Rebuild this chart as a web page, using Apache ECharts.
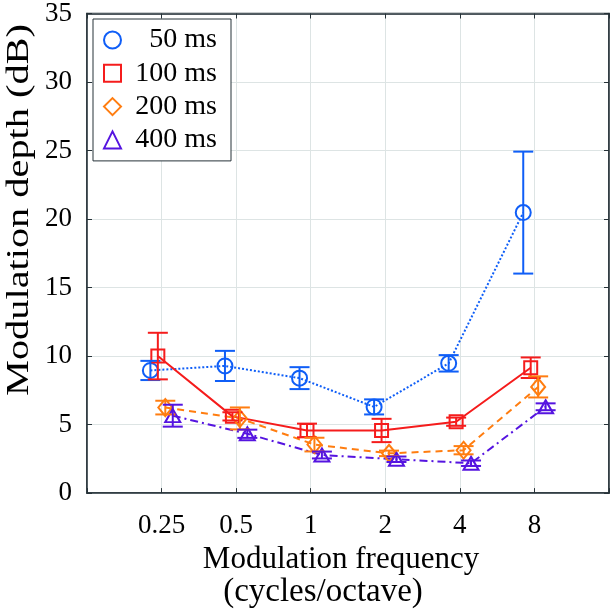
<!DOCTYPE html>
<html>
<head>
<meta charset="utf-8">
<script src="https://cdn.jsdelivr.net/npm/echarts@6/dist/echarts.min.js"></script>
<style>html,body{margin:0;padding:0;background:#fff}#c{width:613px;height:614px}</style>
</head>
<body>
<div id="c"></div>
<script>
const categories = ['0.25', '0.5', '1', '2', '4', '8'];
const freqs = [0.25, 0.5, 1, 2, 4, 8];
const seriesNames = ['50 ms', '100 ms', '200 ms', '400 ms'];
const mean50 = [8.95, 9.28, 8.39, 6.29, 9.47, 20.47];
const err50 = [0.7, 1.1, 0.8, 0.55, 0.6, 4.45];
const mean100 = [10.0, 5.6, 4.57, 4.57, 5.21, 9.15];
const err100 = [1.7, 0.3, 0.5, 0.85, 0.3, 0.75];
const mean200 = [6.24, 5.45, 3.54, 2.9, 3.13, 7.75];
const err200 = [0.5, 0.8, 0.5, 0.2, 0.3, 0.77];
const mean400 = [5.65, 4.33, 2.78, 2.47, 2.18, 6.3];
const err400 = [0.8, 0.3, 0.25, 0.2, 0.2, 0.25];
const yTicks = [0, 5, 10, 15, 20, 25, 30, 35];
const xTitle1 = 'Modulation frequency';
const xTitle2 = '(cycles/octave)';
const yTitle = 'Modulation depth (dB)';

const means = [mean50, mean100, mean200, mean400];
const errs = [err50, err100, err200, err400];
const colors = ['#0f5ef7', '#f51c1c', '#ff7d10', '#5514e0'];
const symbols = ['circle', 'rect', 'diamond', 'triangle'];
const symSizes = [15, 13, [14, 17], [15, 13]];
const lineTypes = ['dotted', 'solid', [7, 5], [8, 4, 2, 4]];
const offsets = [-0.15, -0.05, 0.05, 0.15];
const FONT = '"Liberation Serif", "Times New Roman", serif';

function xLabel(v) {
  for (let i = 0; i < freqs.length; i++) {
    if (Math.abs(Math.log2(freqs[i]) - v) < 1e-6) return categories[i];
  }
  return '';
}

const series = [];
seriesNames.forEach((name, s) => {
  const pts = freqs.map((f, i) => [Math.log2(f) + offsets[s], means[s][i]]);
  series.push({
    name: name,
    type: 'line',
    data: pts,
    symbol: symbols[s],
    symbolSize: symSizes[s],
    showAllSymbol: true,
    lineStyle: { color: colors[s], width: 2, type: lineTypes[s] },
    itemStyle: { color: 'rgba(255,255,255,0)', borderColor: colors[s], borderWidth: 2 },
    z: 3,
    animation: false
  });
  series.push({
    name: name,
    type: 'custom',
    data: freqs.map((f, i) => [Math.log2(f) + offsets[s], means[s][i] - errs[s][i], means[s][i] + errs[s][i]]),
    renderItem: function (params, api) {
      const lo = api.coord([api.value(0), api.value(1)]);
      const hi = api.coord([api.value(0), api.value(2)]);
      const hw = 10;
      const st = { stroke: colors[s], lineWidth: 2, fill: null };
      return {
        type: 'group',
        children: [
          { type: 'line', shape: { x1: lo[0], y1: lo[1], x2: hi[0], y2: hi[1] }, style: st },
          { type: 'line', shape: { x1: lo[0] - hw, y1: lo[1], x2: lo[0] + hw, y2: lo[1] }, style: st },
          { type: 'line', shape: { x1: hi[0] - hw, y1: hi[1], x2: hi[0] + hw, y2: hi[1] }, style: st }
        ]
      };
    },
    encode: { x: 0, y: [1, 2] },
    z: 4,
    animation: false
  });
});

const chart = echarts.init(document.getElementById('c'), null, { renderer: 'canvas' });
chart.setOption({
  animation: false,
  backgroundColor: '#fff',
  grid: { left: 87, right: 4, top: 12, bottom: 115, show: true, borderColor: '#263238', borderWidth: 1.5, backgroundColor: 'transparent' },
  graphic: [{
    type: 'text',
    x: 20,
    y: 210,
    rotation: Math.PI / 2,
    scaleX: 1.26,
    style: { text: yTitle, font: '32px "Liberation Serif", serif', fill: '#000', textAlign: 'center', textVerticalAlign: 'middle' },
    z: 10
  }],
  legend: {
    orient: 'vertical',
    left: 93,
    top: 19,
    padding: [7, 14, 7, 10],
    backgroundColor: '#fff',
    borderColor: '#263238',
    borderWidth: 1,
    borderRadius: 0,
    itemGap: 5.3,
    itemWidth: 17,
    itemHeight: 17,
    data: seriesNames.map((n, s) => ({
      name: n,
      icon: symbols[s],
      itemStyle: { color: 'rgba(255,255,255,0)', borderColor: colors[s], borderWidth: 2 }
    })),
    formatter: n => '{a|' + n + '}',
    textStyle: {
      rich: { a: { fontFamily: FONT, fontSize: 28, color: '#000', width: 91, align: 'right', lineHeight: 27 } }
    },
    selectedMode: false
  },
  xAxis: [{
    type: 'value', min: -3, max: 4, interval: 1,
    axisLine: { onZero: false, lineStyle: { color: '#263238', width: 1.5 } },
    axisTick: { inside: true, length: 5, lineStyle: { color: '#263238' } },
    splitLine: { show: true, lineStyle: { color: '#dde4e4', width: 1 } },
    axisLabel: { formatter: xLabel, fontFamily: FONT, fontSize: 27, color: '#000', margin: 19 },
    name: '{a|' + xTitle1 + '}\n{b|' + xTitle2 + '}',
    nameLocation: 'middle',
    nameGap: 46,
    nameTextStyle: {
      rich: {
        a: { fontFamily: FONT, fontSize: 31, color: '#000', lineHeight: 33, padding: [0, 14, 0, 0] },
        b: { fontFamily: FONT, fontSize: 33, color: '#000', lineHeight: 33, padding: [0, 50, 0, 0] }
      }
    }
  }, {
    type: 'value', min: -3, max: 4, interval: 1, position: 'top',
    axisLine: { show: true, onZero: false, lineStyle: { color: '#263238', width: 1.5 } },
    axisTick: { show: true, inside: true, length: 5, lineStyle: { color: '#263238' } },
    axisLabel: { show: false }, splitLine: { show: false }
  }],
  yAxis: [{
    type: 'value', min: yTicks[0], max: yTicks[yTicks.length - 1], interval: 5,
    axisLine: { show: true, onZero: false, lineStyle: { color: '#263238', width: 1.5 } },
    axisTick: { show: true, inside: true, length: 5, lineStyle: { color: '#263238' } },
    splitLine: { show: true, lineStyle: { color: '#dde4e4', width: 1 } },
    axisLabel: { fontFamily: FONT, fontSize: 27, color: '#000', margin: 15 }
  }, {
    type: 'value', min: yTicks[0], max: yTicks[yTicks.length - 1], interval: 5, position: 'right',
    axisLine: { show: true, onZero: false, lineStyle: { color: '#263238', width: 1.5 } },
    axisTick: { show: true, inside: true, length: 5, lineStyle: { color: '#263238' } },
    axisLabel: { show: false }, splitLine: { show: false }
  }],
  series: series
});
</script>
</body>
</html>
